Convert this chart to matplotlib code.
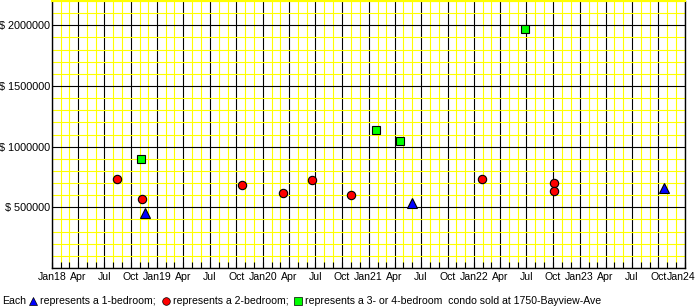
#import libraries
import pandas as pd
import matplotlib
matplotlib.use('Agg')
import matplotlib.pyplot as plt
import matplotlib.dates as mdates
import matplotlib.transforms as mtransforms
from matplotlib.ticker import MultipleLocator, FuncFormatter
from matplotlib.lines import Line2D

plt.rcParams['font.family'] = ['Liberation Sans', 'DejaVu Sans']

#sale dates and prices
one_bed_dates = ['2018-11-19', '2021-06-01', '2023-10-22']
one_bed_prices = [457000, 535000, 663000]

two_bed_dates = ['2018-08-13', '2018-11-10', '2019-10-22', '2020-03-09', '2020-06-19',
                 '2020-11-01', '2022-01-29', '2022-10-05', '2022-10-05']
two_bed_prices = [737000, 572000, 684000, 616000, 725000,
                  599000, 737000, 704000, 638000]

big_dates = ['2018-11-05', '2021-01-25', '2021-04-19', '2022-06-25']
big_prices = [898000, 1135000, 1047000, 1967000]

x_start = '2018-01-01'
x_end = '2024-01-01'
y_max = 2200000

W, H = 698, 307
fig = plt.figure(figsize=(W / 100, H / 100), dpi=100)
ax = fig.add_axes([52 / W, 1 - 268 / H, (685 - 52) / W, (268 - 1) / H])

#the three kinds of condo
ax.plot(pd.to_datetime(one_bed_dates), one_bed_prices, linestyle='none', marker='^',
        markersize=7, markerfacecolor='#0000ff', markeredgecolor='black', markeredgewidth=0.8, zorder=5)
ax.plot(pd.to_datetime(two_bed_dates), two_bed_prices, linestyle='none', marker='o',
        markersize=6, markerfacecolor='#ff0000', markeredgecolor='black', markeredgewidth=0.8, zorder=5)
ax.plot(pd.to_datetime(big_dates), big_prices, linestyle='none', marker='s',
        markersize=6, markerfacecolor='#00ff00', markeredgecolor='black', markeredgewidth=0.8, zorder=5)

ax.set_xlim(pd.Timestamp(x_start), pd.Timestamp(x_end))
ax.set_ylim(0, y_max)

#x axis: black line every quarter, yellow every month
ax.xaxis.set_major_locator(mdates.MonthLocator(bymonth=[1, 4, 7, 10]))
ax.xaxis.set_minor_locator(mdates.MonthLocator())

def date_label(x, pos):
    d = mdates.num2date(x)
    if d.month == 1:
        return d.strftime('Jan%y')
    return d.strftime('%b')

ax.xaxis.set_major_formatter(FuncFormatter(date_label))

#y axis: black line every 500000, yellow every 100000
ax.yaxis.set_major_locator(MultipleLocator(500000))
ax.yaxis.set_minor_locator(MultipleLocator(100000))
ax.yaxis.set_major_formatter(FuncFormatter(lambda v, pos: '' if v == 0 else '$ %d' % v))

ax.grid(which='major', color='black', linewidth=0.8)
ax.grid(which='minor', color='#ffff00', linewidth=0.8)

ax.tick_params(axis='x', which='both', direction='in', length=4.5, width=0.8, color='black',
               labelsize=7.6, pad=3)
ax.tick_params(axis='y', which='both', length=0, labelsize=7.8, pad=1.5)

#keep the last date label (Jan24) inside the picture
last_tick = ax.xaxis.get_major_ticks()[-1]
last_tick.label1.set_transform(last_tick.label1.get_transform() +
                               mtransforms.ScaledTranslation(-3 / 72, 0, fig.dpi_scale_trans))

for side in ['left', 'right', 'bottom']:
    ax.spines[side].set_color('black')
    ax.spines[side].set_linewidth(1)
ax.spines['top'].set_color('#ffff00')
ax.spines['top'].set_linewidth(1.5)

#key line along the bottom
ky = 1 - 301 / H
fig.text(2 / W, ky, 'Each', fontsize=7.6, va='center')
fig.add_artist(Line2D([33 / W], [ky], marker='^', markersize=6, markerfacecolor='#0000ff',
                      markeredgecolor='black', markeredgewidth=0.5, transform=fig.transFigure))
fig.text(40 / W, ky, 'represents a 1-bedroom;', fontsize=7.6, va='center')
fig.add_artist(Line2D([166 / W], [ky], marker='o', markersize=5.5, markerfacecolor='#ff0000',
                      markeredgecolor='black', markeredgewidth=0.5, transform=fig.transFigure))
fig.text(173 / W, ky, 'represents a 2-bedroom;', fontsize=7.6, va='center')
fig.add_artist(Line2D([298 / W], [ky], marker='s', markersize=5.5, markerfacecolor='#00ff00',
                      markeredgecolor='black', markeredgewidth=0.5, transform=fig.transFigure))
fig.text(305 / W, ky, 'represents a 3- or 4-bedroom  condo sold at 1750-Bayview-Ave', fontsize=7.6, va='center')

plt.savefig('out.png', dpi=100)
